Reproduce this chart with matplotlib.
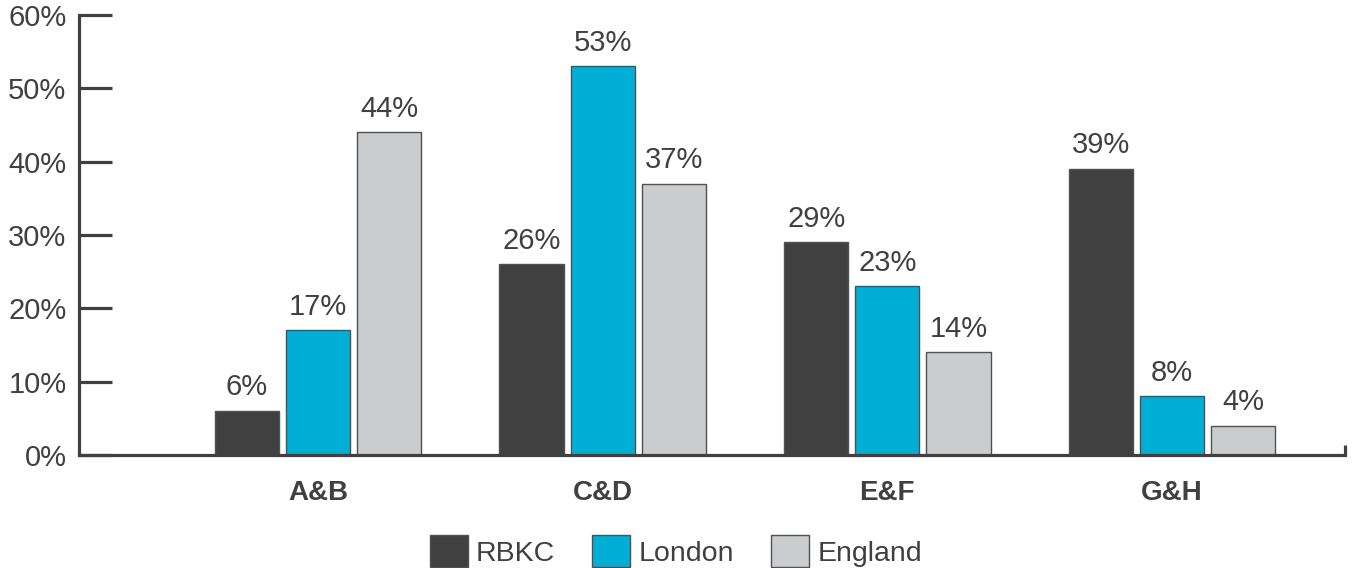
import numpy as np
import matplotlib
matplotlib.use("Agg")
import matplotlib.pyplot as plt

# data
categories = ["A&B", "C&D", "E&F", "G&H"]
series_names = ["RBKC", "London", "England"]
rbkc = [6, 26, 29, 39]
london = [17, 53, 23, 8]
england = [44, 37, 14, 4]
yticks = [0, 10, 20, 30, 40, 50, 60]

colors = ["#404040", "#00aed6", "#cbccce"]
text_col = "#404040"

plt.rcParams['font.family'] = ['Liberation Sans', 'DejaVu Sans']

W, H = 1356, 568
fig = plt.figure(figsize=(W / 100, H / 100), dpi=100)
ax = fig.add_axes([79 / W, 1 - 455 / H, (1345 - 79) / W, (455 - 15) / H])

x = np.arange(len(categories))
width = 0.226
offset = 0.25
for i, (name, vals) in enumerate(zip(series_names, [rbkc, london, england])):
    bars = ax.bar(x + (i - 1) * offset, vals, width, color=colors[i],
                  edgecolor="#505050", linewidth=1.0, label=name, zorder=2)
    for b, v in zip(bars, vals):
        ax.annotate(f"{v}%", (b.get_x() + b.get_width() / 2, v),
                    xytext=(0, 7), textcoords="offset points",
                    ha="center", va="bottom", fontsize=21, color=text_col)

ax.set_ylim(0, 60)
ax.set_xlim(-0.84, 3.608)
ax.set_yticks(yticks)
ax.set_yticklabels([f"{t}%" for t in yticks])
ax.set_xticks(x)
ax.set_xticklabels(categories, fontweight="bold")
ax.set_xticks([3.608], minor=True)

for s in ["top", "right"]:
    ax.spines[s].set_visible(False)
for s in ["left", "bottom"]:
    ax.spines[s].set_linewidth(2.3)
    ax.spines[s].set_color(text_col)

ax.tick_params(axis="y", direction="in", length=24, width=2.3, color=text_col,
               labelsize=21, labelcolor=text_col, pad=9)
ax.tick_params(axis="x", which="major", length=0, labelsize=20,
               labelcolor=text_col, pad=18)
ax.tick_params(axis="x", which="minor", direction="in", length=7, width=2.3,
               color=text_col)

leg = fig.legend(loc="center", bbox_to_anchor=(676 / W, 1 - 551 / H), ncol=3,
                 frameon=False, fontsize=20.5, handlelength=1.33, handleheight=1.33,
                 handletextpad=0.3, columnspacing=1.3, labelcolor=text_col)

fig.savefig("out.png", dpi=100)
